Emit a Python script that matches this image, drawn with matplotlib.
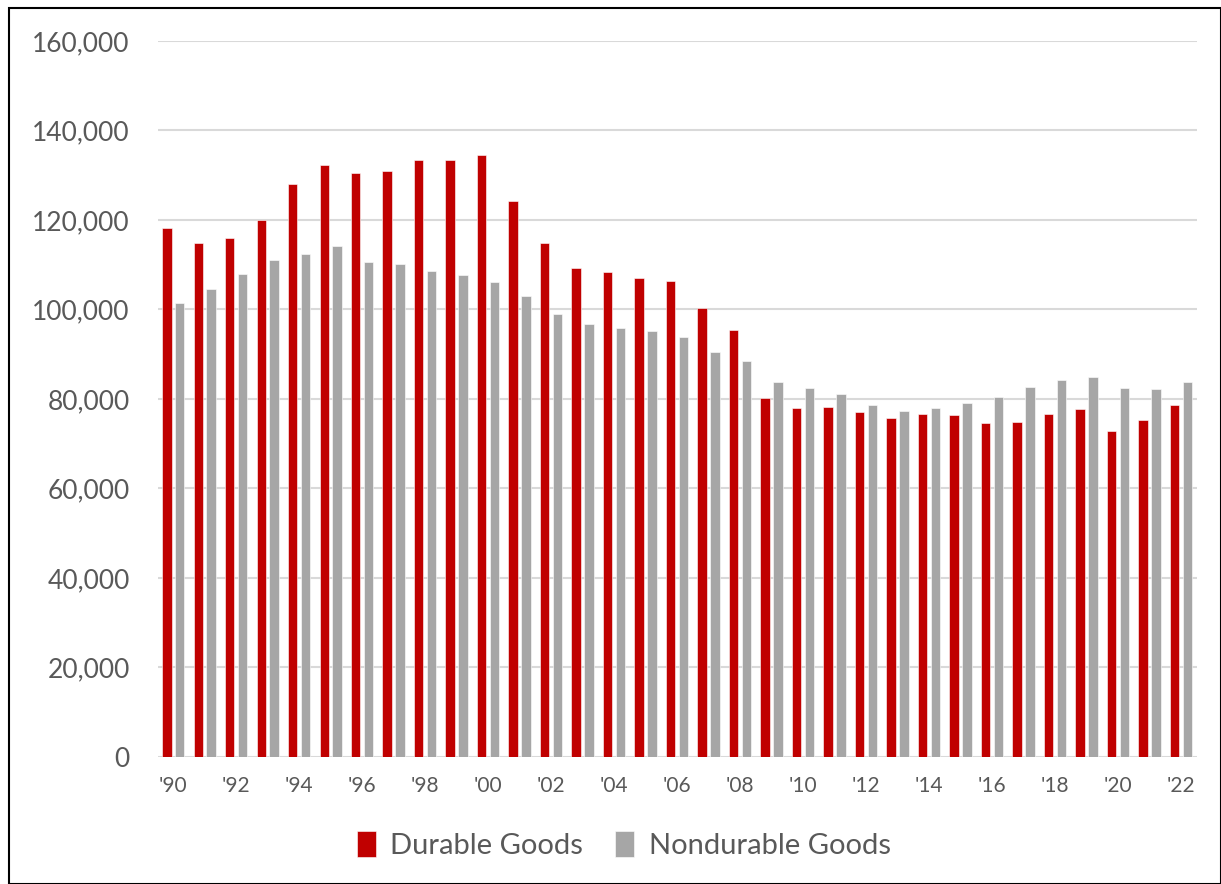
import numpy as np
import matplotlib.pyplot as plt
from matplotlib.patches import Rectangle
from matplotlib.ticker import FuncFormatter

years = list(range(1990, 2023))
durable = [118300, 114800, 116000, 119900, 128000, 132300, 130600, 130900, 133400, 133400,
           134400, 124200, 114900, 109300, 108300, 107000, 106300, 100300, 95400, 80200,
           78000, 78200, 77000, 75700, 76600, 76500, 74600, 74900, 76700, 77700,
           72800, 75200, 78700]
nondurable = [101400, 104500, 107900, 111100, 112400, 114100, 110500, 110200, 108500, 107600,
              106200, 103000, 99000, 96800, 95800, 95200, 93900, 90500, 88500, 83700,
              82500, 81000, 78700, 77300, 77900, 79000, 80500, 82700, 84200, 84800,
              82400, 82200, 83800]
tick_labels = ["'%02d" % (y % 100) if y % 2 == 0 else "" for y in years]

plt.rcParams['font.family'] = ['Lato', 'DejaVu Sans']

fig = plt.figure(figsize=(12.21, 8.84), dpi=100)
ax = fig.add_axes([0.129, 0.1437, 0.851, 0.81])

x = np.arange(len(years))
w = 0.30
ax.bar(x - 0.205, durable, width=w, color='#C00000', edgecolor='white', linewidth=0.4,
       label='Durable Goods', zorder=3)
ax.bar(x + 0.205, nondurable, width=w, color='#A6A6A6', edgecolor='white', linewidth=0.4,
       label='Nondurable Goods', zorder=3)

ax.set_xlim(-0.5, len(years) - 0.5)
ax.set_ylim(0, 160000)
ax.set_yticks(np.arange(0, 160001, 20000))
ax.yaxis.set_major_formatter(FuncFormatter(lambda v, p: f"{int(v):,}"))
ax.set_xticks(x)
ax.set_xticklabels(tick_labels)
ax.grid(axis='y', color='#D9D9D9', linewidth=1.5, zorder=0)
for s in ax.spines.values():
    s.set_visible(False)
ax.tick_params(axis='both', length=0, colors='#595959')
ax.tick_params(axis='y', labelsize=19, pad=20)
ax.tick_params(axis='x', labelsize=15, pad=14)

leg = fig.legend(loc='center', bbox_to_anchor=(0.511, 0.044), ncol=2, frameon=False,
                 fontsize=21, handlelength=0.65, handleheight=1.0, columnspacing=1.1,
                 handletextpad=0.5)
for t in leg.get_texts():
    t.set_color('#595959')

fig.patches.append(Rectangle((0.007, 0.0), 0.993, 0.991, transform=fig.transFigure,
                             fill=False, edgecolor='black', linewidth=1.5))

fig.savefig('out.png', dpi=100)
